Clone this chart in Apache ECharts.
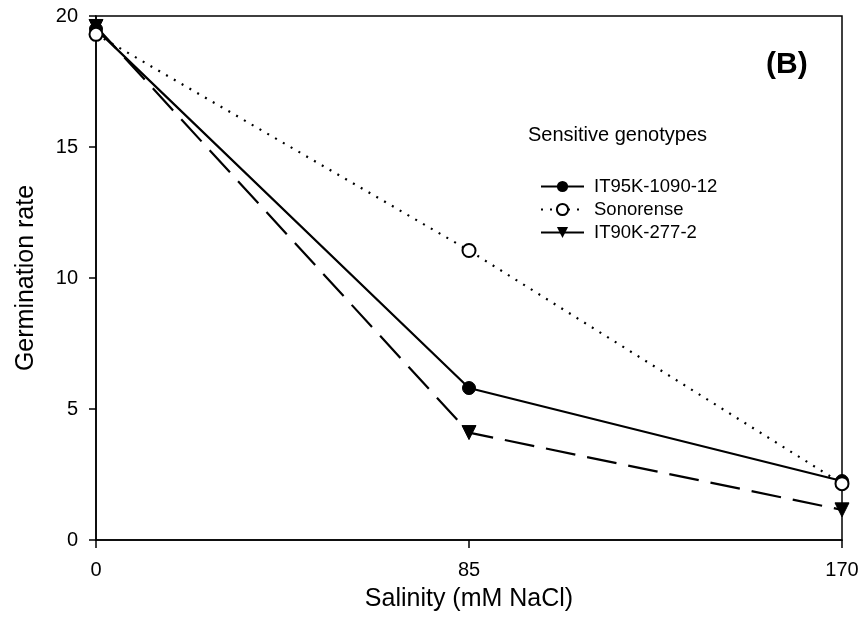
<!DOCTYPE html>
<html><head><meta charset="utf-8">
<script src="https://cdn.jsdelivr.net/npm/echarts@6/dist/echarts.min.js"></script>
<style>html,body{margin:0;padding:0;background:#fff}#c{width:864px;height:631px}</style>
</head><body><div id="c"></div>
<script>
const salinity = [0, 85, 170];
const xTicks = [0, 85, 170];
const yTicks = [0, 5, 10, 15, 20];
const it95k = [19.5, 5.8, 2.25];
const sonorense = [19.3, 11.05, 2.15];
const it90k = [19.6, 4.1, 1.15];
const seriesNames = ['IT95K-1090-12', 'Sonorense', 'IT90K-277-2'];

const font = 'Liberation Sans, Arial, sans-serif';
const chart = echarts.init(document.getElementById('c'), null, {renderer: 'canvas'});
const pairs = a => salinity.map((x, i) => [x, a[i]]);
chart.setOption({
  animation: false,
  backgroundColor: '#fff',
  grid: {left: 96, right: 22, top: 16, bottom: 91, show: true, borderColor: '#000', borderWidth: 1.5},
  graphic: [
    {type: 'text', left: 766, top: 50, style: {text: '(B)', font: 'bold 30px ' + font, fill: '#000'}},
    {type: 'text', left: 528, top: 125, style: {text: 'Sensitive genotypes', font: '20px ' + font, fill: '#000'}}
  ],
  legend: {
    orient: 'vertical', left: 535, top: 172, itemGap: 4, itemWidth: 43, itemHeight: 14,
    textStyle: {fontFamily: font, fontSize: 18.5, color: '#000', padding: [0,0,0,5]},
    data: [
      {name: seriesNames[0]},
      {name: seriesNames[1]},
      {name: seriesNames[2], lineStyle: {type: 'solid'}}
    ]
  },
  xAxis: {
    type: 'value', min: 0, max: 170, interval: 85,
    name: 'Salinity (mM NaCl)', nameLocation: 'middle', nameGap: 47,
    nameTextStyle: {fontFamily: font, fontSize: 25, color: '#000'},
    axisLine: {lineStyle: {color: '#000', width: 1.5}},
    axisTick: {show: true, length: 8, lineStyle: {color: '#000', width: 1.5}},
    axisLabel: {fontFamily: font, fontSize: 20, color: '#000', margin: 20,
      formatter: v => xTicks.includes(v) ? String(v) : ''},
    splitLine: {show: false}
  },
  yAxis: {
    type: 'value', min: 0, max: 20, interval: 5,
    name: 'Germination rate', nameLocation: 'middle', nameGap: 57, nameRotate: 90,
    nameTextStyle: {fontFamily: font, fontSize: 25, color: '#000'},
    axisLine: {show: true, lineStyle: {color: '#000', width: 1.5}},
    axisTick: {show: true, length: 7, lineStyle: {color: '#000', width: 1.5}},
    axisLabel: {fontFamily: font, fontSize: 20, color: '#000', margin: 18,
      formatter: v => yTicks.includes(v) ? String(v) : ''},
    splitLine: {show: false}
  },
  series: [
    {name: seriesNames[0], type: 'line', data: pairs(it95k), symbol: 'circle', symbolSize: 13,
      itemStyle: {color: '#000', borderColor: '#000'}, lineStyle: {color: '#000', width: 2.2, type: 'solid'}, z: 3},
    {name: seriesNames[1], type: 'line', data: pairs(sonorense), symbol: 'circle', symbolSize: 13,
      itemStyle: {color: '#fff', borderColor: '#000', borderWidth: 2}, lineStyle: {color: '#000', width: 2.2, type: [2, 7]}, z: 4},
    {name: seriesNames[2], type: 'line', data: pairs(it90k), symbol: 'triangle', symbolRotate: 180, symbolSize: 14,
      itemStyle: {color: '#000', borderColor: '#000'}, lineStyle: {color: '#000', width: 2.2, type: [30, 12]}, z: 2}
  ]
});
</script></body></html>
